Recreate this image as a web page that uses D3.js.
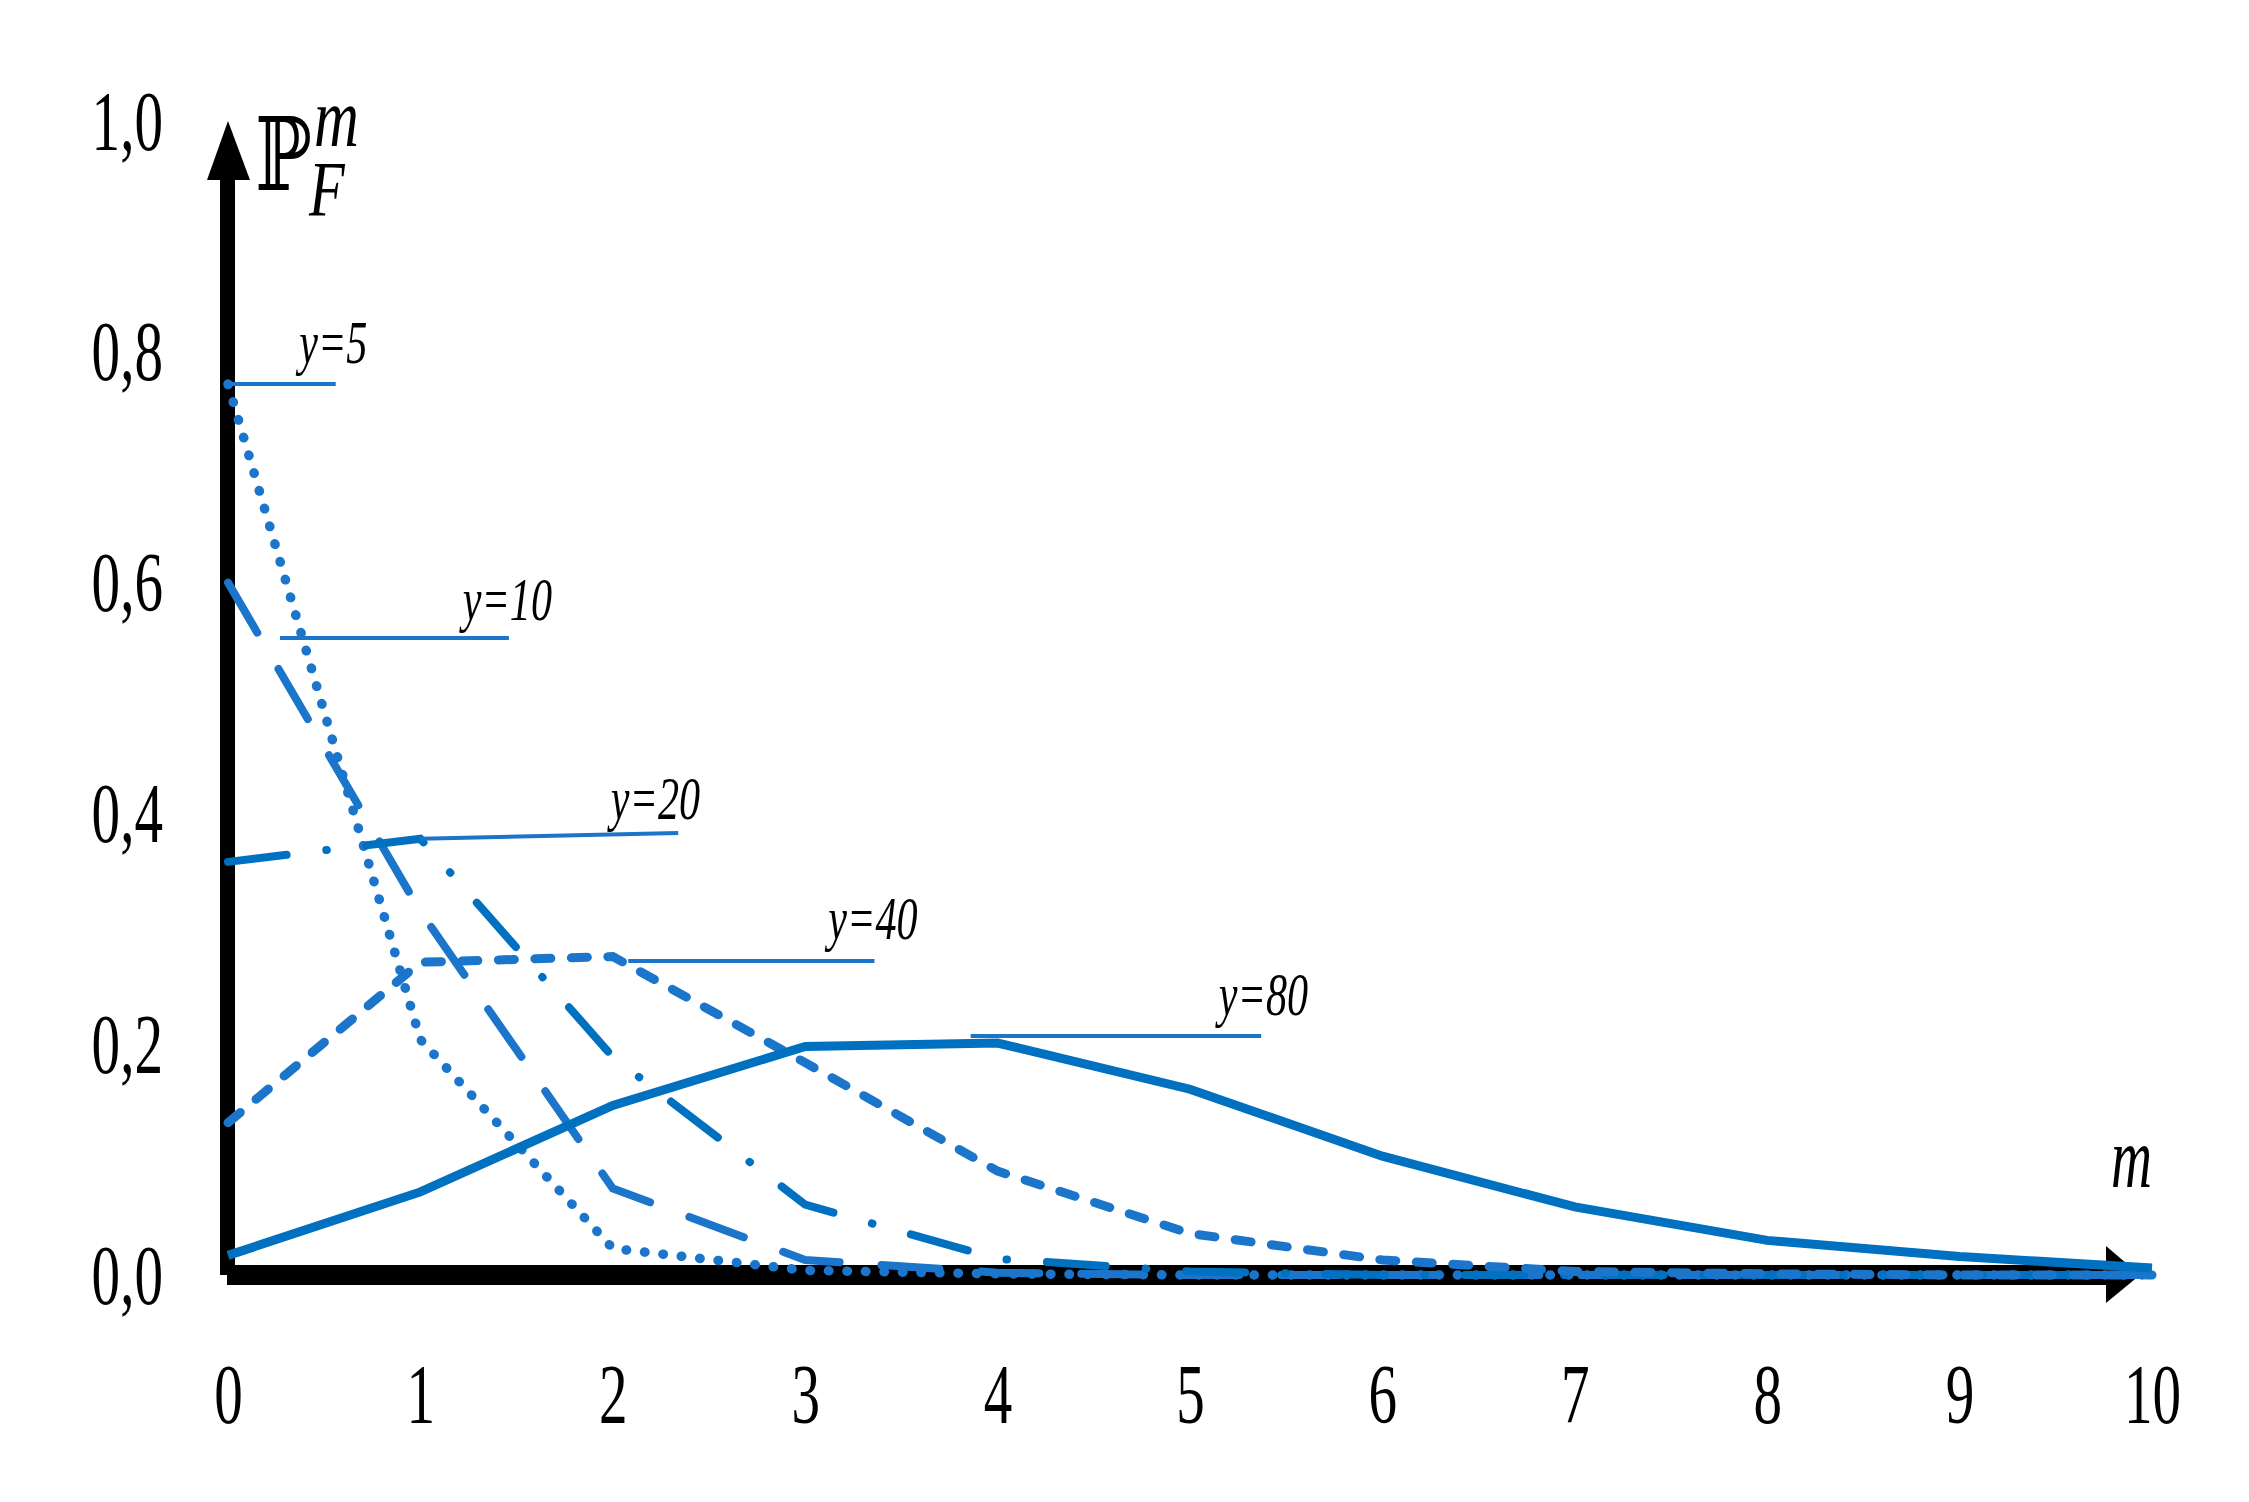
<!DOCTYPE html>
<html>
<head>
<meta charset="utf-8">
<script src="https://cdn.jsdelivr.net/npm/d3@7"></script>
<style>
  body { margin: 0; background: #fff; }
  #graf { width: 2249px; height: 1502px; }
  text { font-family: 'Liberation Serif', 'Times New Roman', serif; fill: #000; }
</style>
</head>
<body>
<div id="graf"></div>
<script>
// I. Datos
const mValues = [0, 1, 2, 3, 4, 5, 6, 7, 8, 9, 10]
const pY5  = [0.772, 0.204, 0.023, 0.004, 0.001, 0, 0, 0, 0, 0, 0]
const pY10 = [0.600, 0.315, 0.075, 0.013, 0.002, 0, 0, 0, 0, 0, 0]
const pY20 = [0.358, 0.378, 0.189, 0.061, 0.014, 0.003, 0, 0, 0, 0, 0]
const pY40 = [0.132, 0.271, 0.276, 0.184, 0.090, 0.036, 0.013, 0.003, 0.001, 0, 0]
const pY80 = [0.017, 0.072, 0.147, 0.198, 0.201, 0.161, 0.103, 0.059, 0.030, 0.016, 0.006]

const seriesNames = ['y=5', 'y=10', 'y=20', 'y=40', 'y=80']
const seriesValues = [pY5, pY10, pY20, pY40, pY80]

// etiquetas: [m inicio, m fin, valor inicio, valor fin] de la linea guia
const labelLeader = [
  [0.0, 0.56, 0.772, 0.772],
  [0.27, 1.46, 0.552, 0.552],
  [1.0, 2.34, 0.378, 0.383],
  [2.08, 3.36, 0.272, 0.272],
  [3.86, 5.37, 0.207, 0.207]
]
// posicion del texto de cada etiqueta (m, valor de la linea base)
const labelText = [
  [0.37, 0.790],
  [1.22, 0.568],
  [1.99, 0.395],
  [3.12, 0.291],
  [5.15, 0.225]
]

const xTicks = [0, 1, 2, 3, 4, 5, 6, 7, 8, 9, 10]
const yTicks = [0, 0.2, 0.4, 0.6, 0.8, 1.0]

// II. Configuracion
const ancho_total = 2249
const alto_total = 1502
const sx = 0.68   // letras estrechas como en la figura original

const svg = d3.select('#graf').append('svg')
  .attr('width', ancho_total)
  .attr('height', alto_total)

const x = d3.scaleLinear().domain([0, 10]).range([228, 2152])
const y = d3.scaleLinear().domain([0, 1]).range([1275, 121])

const azul = '#0070C0'
const azulClaro = '#1B75CB'

// estilos de linea por serie
const estilos = [
  { color: azulClaro, width: 9.5, dash: '0.5 18' },
  { color: azulClaro, width: 8, dash: '58 42' },
  { color: azul, width: 8, dash: '59 40 0.5 40' },
  { color: azulClaro, width: 9, dash: '16 20.5' },
  { color: azul, width: 9, dash: null }
]

// texto estrecho: se escala en x, la posicion se corrige
function textoEstrecho(sel, px, py, escala) {
  return sel.attr('x', px / escala).attr('y', py)
            .attr('transform', `scale(${escala}, 1)`)
}

// III. Ejes
const ejes = svg.append('g')

ejes.append('rect')
  .attr('x', x(0) - 8).attr('y', y(1) + 58)
  .attr('width', 15).attr('height', y(0) - y(1) - 58)
  .attr('fill', '#000')
ejes.append('path')
  .attr('d', `M${x(0) - 21},${y(1) + 59} L${x(0) + 22},${y(1) + 59} L${x(0)},${y(1)} Z`)
  .attr('fill', '#000')

const xFin = x(10) - 46
ejes.append('rect')
  .attr('x', x(0) - 1).attr('y', y(0) - 10)
  .attr('width', xFin - x(0) + 1).attr('height', 20)
  .attr('fill', '#000')
ejes.append('path')
  .attr('d', `M${xFin},${y(0) - 29} L${xFin},${y(0) + 28} L${xFin + 34},${y(0)} Z`)
  .attr('fill', '#000')

// etiquetas de los ejes
const xAxisCall = d3.axisBottom(x).tickValues(xTicks).tickSize(0).tickFormat(d => d)
const xAxisGroup = svg.append('g')
  .attr('transform', `translate(0, ${y(0)})`)
  .call(xAxisCall)
xAxisGroup.select('.domain').remove()
xAxisGroup.selectAll('text')
  .attr('dy', 0)
  .style('font-size', '84px')
  .style('font-family', "'Liberation Serif', serif")
  .attr('fill', '#000')
  .each(function () { textoEstrecho(d3.select(this), 0, 148, sx) })

const yAxisCall = d3.axisLeft(y).tickValues(yTicks).tickSize(0)
  .tickFormat(d => d3.format('.1f')(d).replace('.', ','))
const yAxisGroup = svg.append('g')
  .attr('transform', `translate(${x(0)}, 0)`)
  .call(yAxisCall)
yAxisGroup.select('.domain').remove()
yAxisGroup.selectAll('text')
  .attr('dy', 0)
  .attr('text-anchor', 'end')
  .style('font-size', '84px')
  .style('font-family', "'Liberation Serif', serif")
  .attr('fill', '#000')
  .each(function () { textoEstrecho(d3.select(this), -65, 28, sx) })

// titulo del eje y: P_F^m (un solo texto con superindice y subindice)
const sT = 0.74
const titulo = svg.append('text')
  .attr('transform', `scale(${sT}, 1)`)
titulo.append('tspan')
  .attr('x', 255 / sT).attr('y', 190)
  .style('font-family', "'DejaVu Serif', serif")
  .style('font-size', '102px')
  .text('\u2119')
titulo.append('tspan')
  .attr('x', 314 / sT).attr('y', 146)
  .style('font-style', 'italic')
  .style('font-size', '84px')
  .text('m')
titulo.append('tspan')
  .attr('x', 309 / sT).attr('y', 215)
  .style('font-style', 'italic')
  .style('font-size', '79px')
  .text('F')

// titulo del eje x
textoEstrecho(svg.append('text'), 2111, 1187, 0.66)
  .style('font-style', 'italic')
  .style('font-size', '86px')
  .text('m')

// IV. Series
const linea = d3.line()
  .x((d, i) => x(mValues[i]))
  .y(d => y(d))

const series = svg.append('g')
seriesValues.forEach((vals, k) => {
  const e = estilos[k]
  series.append('path')
    .datum(vals)
    .attr('d', linea)
    .attr('fill', 'none')
    .attr('stroke', e.color)
    .attr('stroke-width', e.width)
    .attr('stroke-linecap', e.dash ? 'round' : 'butt')
    .attr('stroke-linejoin', 'miter')
    .attr('stroke-dasharray', e.dash)
})

// V. Etiquetas de las series
const etiquetas = svg.append('g')
seriesNames.forEach((nombre, k) => {
  const l = labelLeader[k]
  etiquetas.append('line')
    .attr('x1', x(l[0])).attr('x2', x(l[1]))
    .attr('y1', y(l[2])).attr('y2', y(l[3]))
    .attr('stroke', azulClaro)
    .attr('stroke-width', 4)
  const t = labelText[k]
  textoEstrecho(etiquetas.append('text'), x(t[0]), y(t[1]), sx)
    .style('font-style', 'italic')
    .style('font-size', '62px')
    .text(nombre)
})
</script>
</body>
</html>
